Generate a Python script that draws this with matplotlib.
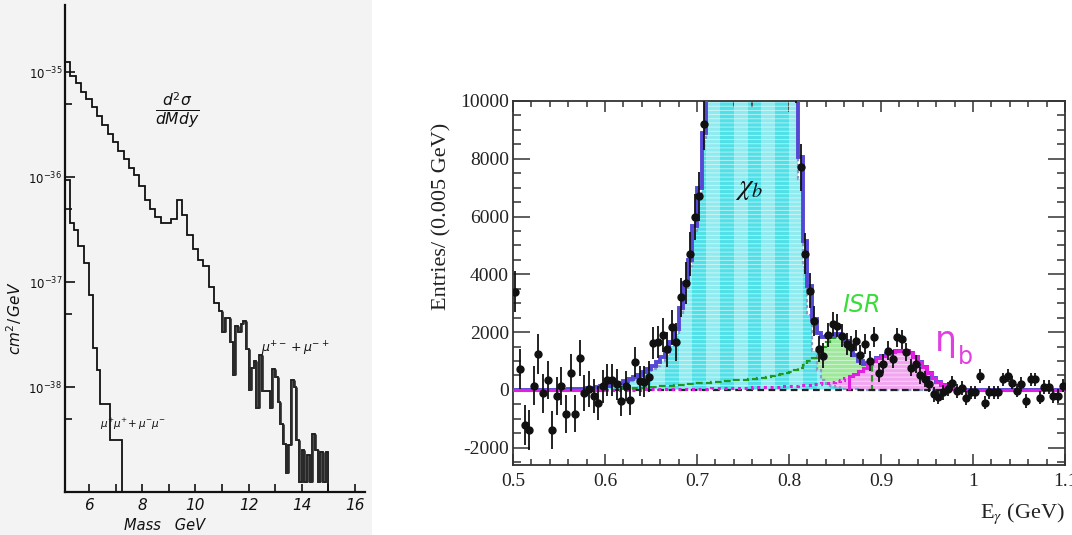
import numpy as np
import matplotlib
matplotlib.use("Agg")
import matplotlib.pyplot as plt
from matplotlib.ticker import FixedLocator, FixedFormatter, MultipleLocator, FuncFormatter
from matplotlib.patches import Rectangle

# ---------------- left panel: dimuon mass spectra (log10 of cm^2/GeV) ----------------
os_edges = np.concatenate([np.arange(5.1, 10.95, 0.2), np.arange(11.0, 15.05, 0.1)])
os_log = [
    -34.90, -35.04, -35.10, -35.19, -35.26, -35.33, -35.42, -35.50, -35.59, -35.67,
    -35.75, -35.83, -35.91, -35.98, -36.08, -36.22, -36.30, -36.38, -36.44, -36.44,
    -36.40, -36.22, -36.36, -36.55, -36.68, -36.79, -36.85, -37.05, -37.20,
    -37.28,
    -37.48, -37.34, -37.34, -37.57, -37.89, -37.42, -37.48, -37.40, -37.37, -37.64,
    -38.03, -37.82, -37.75, -38.20, -37.69, -38.04, -38.04, -38.04, -38.20, -37.83,
    -37.90, -38.14, -38.35, -38.54, -38.82, -38.55, -37.93, -38.00, -38.50, -38.90,
    -38.60, -38.90, -38.65, -38.90, -38.45, -38.60, -38.90, -38.62, -38.90, -38.62,
]
ss_edges = [5.1, 5.3, 5.45, 5.6, 5.8, 6.0, 6.16, 6.29, 6.42, 6.8, 7.23]
ss_log = [-36.03, -36.44, -36.50, -36.66, -36.82, -37.12, -37.63, -37.84, -38.16, -38.50]
mass_ticks = [6, 8, 10, 12, 14, 16]
mass_minor = [7, 9, 11, 13, 15]
decades = [-35, -36, -37, -38]

# ---------------- right panel: photon energy spectrum ----------------
e_lo, e_bin = 0.5, 0.005
data_counts = [
    3400, 730, -1215, -1380, 150, 1240, -120, 340, -1400, -220,
    130, -830, 600, -830, 1100, -100, 30, -210, -440, 120,
    350, 340, 200, -380, 150, -340, 950, 300, 280, 450,
    1620, 1650, 1900, 1400, 2160, 1650, 3200, 3700, 4700, 5980,
    6700, 9200, 11800, 14200, 17800, 21500, 24800, 28300, 30600, 32400,
    33200, 32700, 32200, 30300, 28800, 25700, 23900, 20800, 18900, 15700,
    13900, 10800, 7700, 4720, 3440, 2400, 1410, 1180, 1900, 2280,
    2220, 1875, 1600, 1500, 1700, 1200, 1590, 1000, 1820, 600,
    900, 1350, 1065, 1820, 1750, 1300, 775, 900, 500, 380,
    200, -150, -250, -90, 25, 250, -30, 80, -270, -90,
    -90, 490, -440, -90, -90, -90, 370, 490, 250, -30,
    200, -380, 370, 370, -270, 100, 100, -210, -210, 140,
]
data_err = [
    700, 700, 690, 690, 680, 680, 670, 670, 660, 660,
    650, 650, 640, 640, 630, 620, 610, 600, 590, 580,
    560, 550, 540, 530, 520, 520, 520, 520, 530, 540,
    550, 560, 580, 600, 620, 650, 680, 720, 760, 800,
    850, 900, 960, 1000, 1050, 1100, 1150, 1200, 1220, 1250,
    1250, 1250, 1240, 1220, 1200, 1160, 1120, 1080, 1030, 980,
    930, 870, 800, 700, 600, 520, 460, 430, 420, 410,
    400, 390, 380, 370, 360, 350, 350, 340, 340, 330,
    330, 330, 320, 320, 320, 310, 300, 300, 290, 280,
    270, 260, 250, 250, 250, 240, 240, 240, 240, 240,
    240, 240, 230, 230, 230, 230, 230, 230, 230, 230,
    230, 230, 230, 230, 230, 230, 230, 230, 230, 230,
]
chib_fit = [
    0, 0, 0, 0, 0, 0, 0, 0, 0, 0,
    8, 12, 18, 25, 35, 48, 62, 80, 100, 120,
    140, 165, 195, 230, 270, 320, 380, 450, 530, 620,
    720, 840, 1000, 1220, 1520, 1950, 2650, 3500, 4300, 5450,
    6750, 8650, 11500, 14500, 18000, 21500, 25000, 28000, 30500, 32000,
    33000, 33000, 32000, 30500, 28500, 26000, 23500, 21000, 18500, 16000,
    13500, 11000, 7300, 4300, 2600, 1350, 700, 350, 200, 130,
    90, 60, 40, 28, 18, 12, 8, 5, 3, 0,
    0, 0, 0, 0, 0, 0, 0, 0, 0, 0,
    0, 0, 0, 0, 0, 0, 0, 0, 0, 0,
    0, 0, 0, 0, 0, 0, 0, 0, 0, 0,
    0, 0, 0, 0, 0, 0, 0, 0, 0, 0,
]
isr_fit = [
    0, 0, 0, 0, 0, 0, 0, 0, 0, 0,
    0, 0, 0, 0, 0, 0, 0, 0, 0, 0,
    0, 0, 0, 0, 20, 30, 40, 50, 60, 70,
    80, 90, 100, 110, 120, 130, 140, 150, 160, 170,
    180, 190, 200, 210, 220, 230, 240, 250, 260, 270,
    280, 290, 300, 315, 330, 345, 365, 385, 410, 440,
    480, 530, 600, 690, 800, 920, 1040, 1250, 1400, 1500,
    1520, 1450, 1250, 950, 620, 330, 130, 30, 0, 0,
    0, 0, 0, 0, 0, 0, 0, 0, 0, 0,
    0, 0, 0, 0, 0, 0, 0, 0, 0, 0,
    0, 0, 0, 0, 0, 0, 0, 0, 0, 0,
    0, 0, 0, 0, 0, 0, 0, 0, 0, 0,
]
etab_fit = [
    0, 0, 0, 0, 0, 0, 0, 0, 0, 0,
    0, 0, 0, 0, 0, 0, 0, 0, 0, 0,
    5, 6, 7, 8, 9, 10, 12, 13, 15, 16,
    18, 20, 22, 24, 26, 28, 30, 33, 36, 39,
    42, 45, 48, 51, 54, 58, 62, 66, 70, 74,
    78, 82, 87, 92, 97, 103, 109, 116, 123, 131,
    140, 150, 161, 173, 186, 200, 216, 234, 255, 280,
    310, 350, 400, 470, 560, 660, 770, 880, 990, 1090,
    1180, 1250, 1300, 1340, 1350, 1330, 1260, 1140, 980, 790,
    600, 420, 270, 160, 90, 45, 20, 8, 3, 0,
    0, 0, 0, 0, 0, 0, 0, 0, 0, 0,
    0, 0, 0, 0, 0, 0, 0, 0, 0, 0,
]

W, H = 1072, 535
fig = plt.figure(figsize=(W / 100, H / 100), dpi=100)
fig.patch.set_facecolor("white")
fig.add_artist(Rectangle((0, 0), 372 / W, 1, transform=fig.transFigure,
                         facecolor="#f3f3f3", edgecolor="none", zorder=0))

hand = dict(family="DejaVu Sans", style="italic")
ink = "#111111"

# ======================= left panel =======================
axL = fig.add_axes([65 / W, 43 / H, 300 / W, 487 / H])
axL.set_facecolor("none")
axL.set_yscale("log")
ybot = 1e-39
axL.set_xlim(5.1, 16.38)
axL.set_ylim(ybot, 10 ** -34.36)
for s in ("top", "right"):
    axL.spines[s].set_visible(False)
for s in ("left", "bottom"):
    axL.spines[s].set_linewidth(1.6)
    axL.spines[s].set_color(ink)

os_e = np.asarray(os_edges)
os_v = 10.0 ** np.asarray(os_log)
ss_e = np.asarray(ss_edges)
ss_v = 10.0 ** np.asarray(ss_log)
axL.stairs(os_v, os_e, baseline=ybot, color=ink, lw=1.3)
axL.stairs(ss_v, ss_e, baseline=ybot, color=ink, lw=1.3)
# heavy pen strokes on the risers of the high-mass bins
k = np.nonzero((os_e > 10.95) & (os_e < 14.95))[0]
axL.vlines(os_e[k], np.minimum(os_v[k - 1], os_v[k]), np.maximum(os_v[k - 1], os_v[k]),
           color="#2a2a2a", lw=1.9)

axL.xaxis.set_major_locator(FixedLocator(mass_ticks))
axL.xaxis.set_minor_locator(FixedLocator(mass_minor))
axL.yaxis.set_major_locator(FixedLocator([10.0 ** d for d in decades]))
axL.yaxis.set_major_formatter(FixedFormatter([r"$10^{%d}$" % d for d in decades]))
axL.yaxis.set_minor_locator(FixedLocator([5 * 10.0 ** (d - 1) for d in decades]))
axL.yaxis.set_minor_formatter(FixedFormatter([]))
axL.tick_params(axis="both", which="both", direction="in", width=1.2, colors=ink)
axL.tick_params(axis="x", which="both", length=6, labelsize=11, pad=4)
axL.tick_params(axis="y", which="major", length=7, labelsize=8.5, pad=2)
axL.tick_params(axis="y", which="minor", length=5)
for lab in axL.get_xticklabels():
    lab.set_fontstyle("italic")

fig.text(165 / W, 1 - 526 / H, "Mass   GeV", ha="center", va="center", fontsize=10.5,
         color=ink, **hand)
fig.text(14 / W, 1 - 318 / H, r"$cm^2/\,GeV$", rotation=90, ha="center", va="center",
         fontsize=11, color=ink)
axL.text(9.31, 10 ** -35.36, r"$\frac{d^2\sigma}{dMdy}$", ha="center", va="center",
         fontsize=16, color=ink)
axL.text(13.75, 10 ** -37.64, r"$\mu^{+-}+\mu^{-+}$", ha="center", va="center",
         fontsize=9, color=ink)
axL.text(7.66, 10 ** -38.36, r"$\mu^{+}\mu^{+}\!+\mu^{-}\mu^{-}$", ha="center", va="center",
         fontsize=7.5, color=ink)

# ======================= right panel =======================
serif = "Liberation Serif"
axR = fig.add_axes([513 / W, 70 / H, 552 / W, 364 / H])
n = len(data_counts)
edges = np.round(e_lo + e_bin * np.arange(n + 1), 4)
centers = 0.5 * (edges[:-1] + edges[1:])
chib = np.asarray(chib_fit, float)
isr = np.asarray(isr_fit, float)
etab = np.asarray(etab_fit, float)
total = chib + isr + etab

plt.rcParams["hatch.linewidth"] = 0.7
hatch_col = (1, 1, 1, 0.55)

# eta_b component
axR.stairs(etab, edges, fill=True, facecolor="#f2a6f0", lw=0, zorder=1.0)
axR.stairs(etab, edges, fill=True, facecolor="none", edgecolor=hatch_col, hatch="----", lw=0, zorder=1.05)
# ISR component stacked on eta_b
axR.stairs(etab + isr, edges, baseline=etab, fill=True, facecolor="#9de89a", lw=0, zorder=1.1)
axR.stairs(etab + isr, edges, baseline=etab, fill=True, facecolor="none", edgecolor=hatch_col,
           hatch="----", lw=0, zorder=1.15)
# chi_b component
stripe = (np.arange(n) // 3) % 2 == 0
axR.stairs(chib, edges, fill=True, facecolor="#4fe0e8", lw=0, zorder=1.5)
axR.stairs(np.where(stripe, chib, 0), edges, fill=True, facecolor="#8eebef", lw=0, zorder=1.55)
axR.stairs(chib, edges, fill=True, facecolor="none", edgecolor=hatch_col, hatch="----", lw=0, zorder=1.6)
axR.stairs(chib, edges, color="#8a9cc8", lw=1.6, ls=(0, (1.5, 1.2)), zorder=1.7)

# component outlines
nz = np.nonzero(isr)[0]
sl = slice(nz[0], nz[-1] + 2)
axR.stairs((etab + isr)[nz[0]:nz[-1] + 1], edges[sl], color="#1f9a1f", lw=1.6,
           ls=(0, (3, 1.5)), zorder=2.0)
axR.axhline(0, color="#222222", lw=1.6, ls=(0, (3, 2)), zorder=2.05)
tail = (edges[:-1] >= 0.6) & (edges[:-1] < 0.865)
lo_tail = np.nonzero(tail)[0]
axR.stairs(etab[lo_tail[0]:lo_tail[-1] + 1], edges[lo_tail[0]:lo_tail[-1] + 2],
           color="#e01fe0", lw=2.2, ls=(0, (1, 1.2)), zorder=2.1)

axR.stairs(total, edges, color="#5548d4", lw=2.8, zorder=3)

head = np.nonzero(edges[:-1] < 0.6)[0]
peak = np.nonzero(edges[:-1] >= 0.865)[0]
axR.stairs(etab[head[0]:head[-1] + 1], edges[head[0]:head[-1] + 2], color="#e01fe0", lw=2.2, zorder=3.5)
axR.stairs(etab[peak[0]:], edges[peak[0]:], color="#e01fe0", lw=2.2, zorder=3.5)

axR.errorbar(centers, data_counts, yerr=data_err, fmt="o", ms=5, color="#111111",
             ecolor="#111111", elinewidth=1.3, capsize=0, zorder=5)

axR.set_xlim(0.5, 1.1)
axR.set_ylim(-2600, 10000)
axR.xaxis.set_major_locator(MultipleLocator(0.1))
axR.xaxis.set_minor_locator(MultipleLocator(0.02))
axR.yaxis.set_major_locator(MultipleLocator(2000))
axR.yaxis.set_minor_locator(MultipleLocator(500))
fmt = FuncFormatter(lambda v, _: "%g" % round(v, 4))
axR.xaxis.set_major_formatter(fmt)
axR.yaxis.set_major_formatter(fmt)
axR.tick_params(axis="both", which="both", direction="in", top=True, right=True,
                width=1.1, colors="#333333", labelcolor="#222222", labelsize=14)
axR.tick_params(axis="x", which="major", length=8, pad=6)
axR.tick_params(axis="x", which="minor", length=4)
axR.tick_params(axis="y", which="major", length=12, pad=3)
axR.tick_params(axis="y", which="minor", length=6)
for lab in axR.get_xticklabels() + axR.get_yticklabels():
    lab.set_fontfamily(serif)
for s in axR.spines.values():
    s.set_linewidth(1.3)
    s.set_color("#333333")

axR.set_ylabel("Entries/ (0.005 GeV)", fontsize=16, family=serif, color="#222222")
axR.yaxis.set_label_coords(-0.112, 0.684)
axR.set_xlabel(r"E$_\gamma$ (GeV)", fontsize=16, family=serif, color="#222222",
               math_fontfamily="stix")
axR.xaxis.set_label_coords(1.0, -0.10)
axR.xaxis.label.set_horizontalalignment("right")

axR.text(0.757, 7000, r"$\chi_b$", fontsize=21, ha="center", va="center",
         color="#111111", math_fontfamily="stix")
axR.text(0.879, 2950, "ISR", fontsize=17, ha="center", va="center", color="#38dd38",
         family="DejaVu Sans", style="italic")
axR.text(0.9705, 1700, "η", fontsize=25, ha="center", va="center", color="#e23ee2",
         family="DejaVu Sans")
axR.text(0.9915, 1150, "b", fontsize=17, ha="center", va="center", color="#e23ee2",
         family="DejaVu Sans")

fig.savefig("out.png", dpi=100, facecolor=fig.get_facecolor())
